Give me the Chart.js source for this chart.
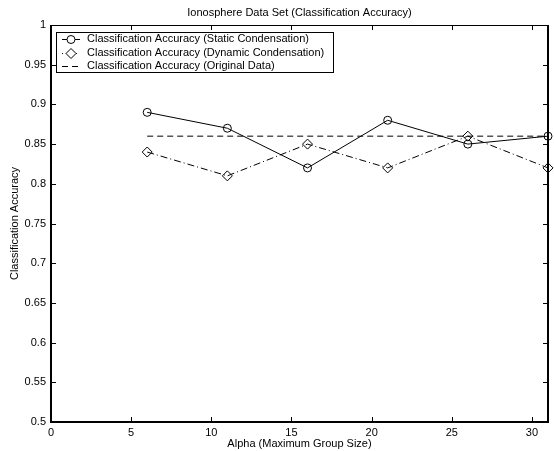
<!DOCTYPE html>
<html>
<head>
<meta charset="utf-8">
<script src="https://cdn.jsdelivr.net/npm/chart.js@4/dist/chart.umd.min.js"></script>
<style>
html,body{margin:0;padding:0;background:#fff;}
#wrap{width:554px;height:451px;position:relative;}
</style>
</head>
<body>
<div id="wrap"><canvas id="c" width="554" height="451"></canvas></div>
<script>
const alphaValues = [6, 11, 16, 21, 26, 31];
const staticAcc   = [0.89, 0.87, 0.82, 0.88, 0.85, 0.86];
const dynamicAcc  = [0.84, 0.81, 0.85, 0.82, 0.86, 0.82];
const originalAcc = [0.86, 0.86, 0.86, 0.86, 0.86, 0.86];
const seriesLabels = [
  'Classification Accuracy (Static Condensation)',
  'Classification Accuracy (Dynamic Condensation)',
  'Classification Accuracy (Original Data)'
];
const chartTitle = 'Ionosphere Data Set (Classification Accuracy)';
const xTicks = [0, 5, 10, 15, 20, 25, 30];
const yTicks = [0.5, 0.55, 0.6, 0.65, 0.7, 0.75, 0.8, 0.85, 0.9, 0.95, 1];

const FONT = '"Liberation Sans", Arial, Helvetica, sans-serif';
const toPts = (ys) => alphaValues.map((x, i) => ({x: x, y: ys[i]}));

const framePlugin = {
  id: 'frame',
  afterDatasetsDraw(chart) {
    const ctx = chart.ctx, a = chart.chartArea;
    const xs = chart.scales.x, ys = chart.scales.y;
    ctx.save();
    ctx.strokeStyle = '#000';
    ctx.fillStyle = '#000';
    ctx.font = '11px ' + FONT;
    ctx.textAlign = 'center';
    ctx.textBaseline = 'middle';
    ctx.fillText(chartTitle, (a.left + a.right) / 2, 13);
    ctx.lineWidth = 1;
    ctx.beginPath();
    xTicks.forEach(v => {
      const px = Math.round(xs.getPixelForValue(v)) + 0.5;
      ctx.moveTo(px, a.bottom); ctx.lineTo(px, a.bottom - 5);
      ctx.moveTo(px, a.top); ctx.lineTo(px, a.top + 5);
    });
    yTicks.forEach(v => {
      const py = Math.round(ys.getPixelForValue(v)) + 0.5;
      ctx.moveTo(a.left, py); ctx.lineTo(a.left + 5, py);
      ctx.moveTo(a.right, py); ctx.lineTo(a.right - 5, py);
    });
    ctx.stroke();
    ctx.beginPath();
    ctx.moveTo(a.left, a.top + 0.5); ctx.lineTo(a.right, a.top + 0.5);
    ctx.stroke();
    ctx.lineWidth = 2;
    ctx.beginPath();
    ctx.moveTo(a.left, a.top); ctx.lineTo(a.left, a.bottom);
    ctx.lineTo(a.right, a.bottom); ctx.lineTo(a.right, a.top);
    ctx.stroke();

    // legend
    const lx = 56, ly = 32, lw = 277, lh = 40;
    ctx.fillStyle = '#fff';
    ctx.fillRect(lx, ly, lw, lh);
    ctx.lineWidth = 1;
    ctx.strokeStyle = '#000';
    ctx.strokeRect(lx + 0.5, ly + 0.5, lw, lh);
    const rows = [39, 53, 66];
    const dashOffsets = [0, 10, 0];
    chart.data.datasets.forEach((ds, i) => {
      const y = rows[i] + 0.5;
      ctx.save();
      ctx.strokeStyle = '#000';
      ctx.lineWidth = 1;
      ctx.setLineDash(ds.borderDash || []);
      ctx.lineDashOffset = dashOffsets[i];
      ctx.beginPath();
      ctx.moveTo(62, y); ctx.lineTo(80, y);
      ctx.stroke();
      ctx.setLineDash([]);
      if (ds.pointRadius > 0) {
        ctx.fillStyle = '#fff';
        ctx.strokeStyle = '#000';
        ctx.lineWidth = 1;
        Chart.helpers.drawPoint(ctx, {
          pointStyle: ds.pointStyle, radius: ds.pointRadius,
          borderWidth: 1
        }, 71, y);
      }
      ctx.restore();
      ctx.fillStyle = '#000';
      ctx.font = '11px ' + FONT;
      ctx.textBaseline = 'middle';
      ctx.textAlign = 'left';
      ctx.fillText(ds.label, 87, rows[i]);
    });
    ctx.restore();
  }
};

new Chart(document.getElementById('c'), {
  type: 'line',
  data: {
    datasets: [
      {
        label: seriesLabels[0], data: toPts(staticAcc),
        borderColor: '#000', borderWidth: 1,
        pointStyle: 'circle', pointRadius: 4, pointBorderColor: '#000',
        pointBackgroundColor: 'rgba(255,255,255,0)', pointBorderWidth: 1,
        tension: 0, clip: false, fill: false
      },
      {
        label: seriesLabels[1], data: toPts(dynamicAcc),
        borderColor: '#000', borderWidth: 1, borderDash: [7, 3, 1, 3],
        pointStyle: 'rectRot', pointRadius: 5, pointBorderColor: '#000',
        pointBackgroundColor: 'rgba(255,255,255,0)', pointBorderWidth: 1,
        tension: 0, clip: false, fill: false
      },
      {
        label: seriesLabels[2], data: toPts(originalAcc),
        borderColor: '#000', borderWidth: 1, borderDash: [6, 4],
        pointRadius: 0, tension: 0, clip: false, fill: false
      }
    ]
  },
  options: {
    responsive: false,
    animation: false,
    layout: { padding: { left: 0, right: 4, top: 25, bottom: 0 } },
    plugins: {
      legend: { display: false },
      tooltip: { enabled: false },
      title: { display: false }
    },
    scales: {
      x: {
        type: 'linear', min: 0, max: 31,
        afterFit: s => { s.height = 29; },
        grid: { display: false, drawTicks: false },
        border: { display: false },
        ticks: {
          stepSize: 5, includeBounds: false, autoSkip: false, maxRotation: 0,
          padding: 4, color: '#000',
          font: { family: FONT, size: 11 },
          callback: v => String(v)
        },
        title: {
          display: true, text: 'Alpha (Maximum Group Size)', color: '#000',
          font: { family: FONT, size: 11 },
          padding: { top: 0, bottom: 0 }
        }
      },
      y: {
        type: 'linear', min: 0.5, max: 1,
        afterFit: s => { s.width = 51; },
        grid: { display: false, drawTicks: false },
        border: { display: false },
        ticks: {
          stepSize: 0.05, autoSkip: false, padding: 5, color: '#000',
          font: { family: FONT, size: 11 },
          callback: v => String(+v.toFixed(2))
        },
        title: {
          display: true, text: 'Classification Accuracy', color: '#000',
          font: { family: FONT, size: 11 },
          padding: { top: 8, bottom: 0 }
        }
      }
    }
  },
  plugins: [framePlugin]
});
</script>
</body>
</html>
